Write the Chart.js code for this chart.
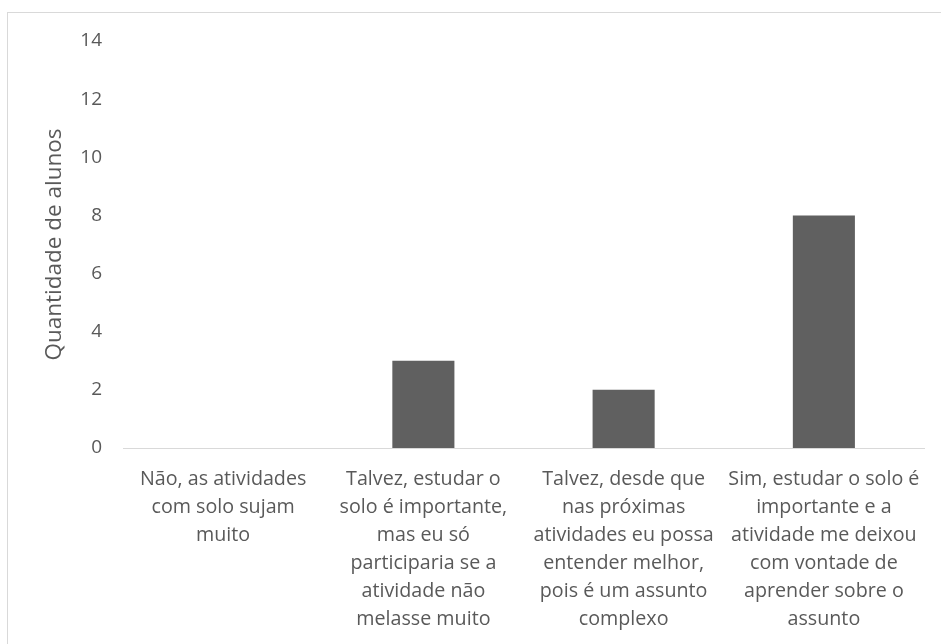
<!DOCTYPE html>
<html>
<head>
<meta charset="utf-8">
<script src="https://cdn.jsdelivr.net/npm/chart.js@4"></script>
<style>
  html, body { margin: 0; padding: 0; background: #fff; }
  #wrap { position: relative; width: 941px; height: 644px; }
  #frame { position: absolute; left: 7px; top: 12px; width: 940px; height: 640px; border: 1px solid #d9d9d9; box-sizing: border-box; pointer-events: none; }
  canvas { position: absolute; left: 0; top: 0; }
</style>
</head>
<body>
<div id="wrap">
  <canvas id="c" width="941" height="644"></canvas>
  <div id="frame"></div>
</div>
<script>
const categories = [
  ["Não, as atividades", "com solo sujam", "muito"],
  ["Talvez, estudar o", "solo é importante,", "mas eu só", "participaria se a", "atividade não", "melasse muito"],
  ["Talvez, desde que", "nas próximas", "atividades eu possa", "entender melhor,", "pois é um assunto", "complexo"],
  ["Sim, estudar o solo é", "importante e a", "atividade me deixou", "com vontade de", "aprender sobre o", "assunto"]
];
const values = [0, 3, 2, 8];
const yTitle = "Quantidade de alunos";

const FONT = "'Open Sans', sans-serif";
const TXT = "#595959";

new Chart(document.getElementById('c'), {
  type: 'bar',
  data: {
    labels: categories,
    datasets: [{
      data: values,
      backgroundColor: '#606060',
      borderWidth: 0,
      categoryPercentage: 1,
      barPercentage: 0.31
    }]
  },
  options: {
    responsive: false,
    animation: false,
    devicePixelRatio: 1,
    layout: { padding: { left: 0, top: 41, right: 17, bottom: 0 } },
    plugins: { legend: { display: false }, tooltip: { enabled: false } },
    scales: {
      x: {
        grid: { display: false, drawTicks: false },
        border: { display: true, color: '#d9d9d9', width: 1 },
        ticks: {
          color: TXT, padding: 17, maxRotation: 0, autoSkip: false,
          font: { family: FONT, size: 19.7, lineHeight: 28 / 19.7 }
        },
        afterFit: s => { s.height = 196; }
      },
      y: {
        min: 0, max: 14,
        grid: { display: false, drawTicks: false },
        border: { display: false },
        ticks: {
          stepSize: 2, color: TXT, padding: 21,
          font: { family: FONT, size: 19 }
        },
        title: {
          display: true, text: yTitle, color: TXT,
          font: { family: FONT, size: 22.5 },
          padding: { top: 41, bottom: 0 }
        },
        afterFit: s => { s.width = 123; }
      }
    }
  }
});
</script>
</body>
</html>
